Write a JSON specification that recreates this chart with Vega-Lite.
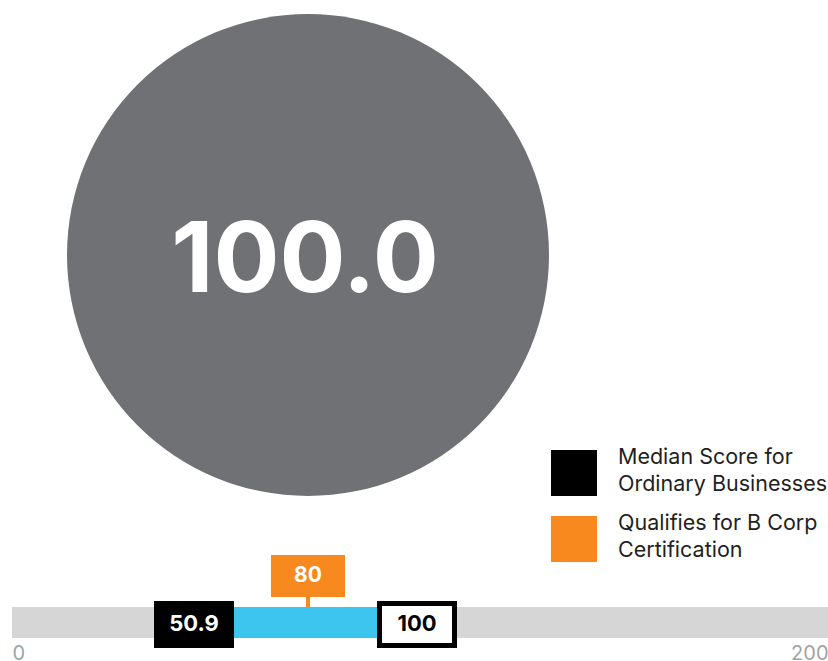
{
  "$schema": "https://vega.github.io/schema/vega-lite/v6.json",
  "padding": 0,
  "spacing": 0,
  "background": "white",
  "config": {"view": {"stroke": null}, "font": "Inter"},
  "datasets": {
    "overall": [{"score": 100}],
    "markers": [
      {"label": "Median Score for Ordinary Businesses", "value": 50.9, "kind": "median"},
      {"label": "Qualifies for B Corp Certification", "value": 80, "kind": "bcorp"},
      {"label": "Overall B Impact Score", "value": 100, "kind": "score"}
    ],
    "track": [{"min": 0, "max": 200}],
    "band": [{"from": 50.9, "to": 100}]
  },
  "vconcat": [
    {
      "width": 616,
      "height": 510,
      "data": {"name": "overall"},
      "layer": [
        {
          "mark": {"type": "point", "shape": "circle", "filled": true, "size": 232324, "color": "#707175", "opacity": 1, "strokeWidth": 0},
          "encoding": {}
        },
        {
          "mark": {"type": "text", "fontSize": 98, "fontWeight": "bold", "color": "white", "baseline": "alphabetic", "align": "center", "dy": 37, "dx": -3},
          "encoding": {"text": {"field": "score", "type": "quantitative", "format": ".1f"}}
        }
      ]
    },
    {
      "width": 828,
      "height": 133,
      "layer": [
        {
          "data": {"name": "track"},
          "mark": {"type": "rect", "y": 97, "y2": 128, "color": "#d6d6d6"},
          "encoding": {
            "x": {
              "field": "min", "type": "quantitative",
              "scale": {"domain": [0, 50.9, 80, 100, 200], "range": [12, 194, 308, 417, 828], "nice": false, "zero": false},
              "axis": {"values": [0, 200], "domain": false, "ticks": false, "grid": false, "title": null, "labelFontSize": 20, "labelColor": "#a3a3a3", "labelPadding": 16, "labelFlush": true, "labelBaseline": "alphabetic"}
            },
            "x2": {"field": "max"}
          }
        },
        {
          "data": {"name": "band"},
          "mark": {"type": "rect", "y": 97, "y2": 128, "color": "#3dc5ef"},
          "encoding": {
            "x": {"field": "from", "type": "quantitative"},
            "x2": {"field": "to"}
          }
        },
        {
          "data": {"name": "markers"},
          "transform": [{"filter": "datum.kind == 'bcorp'"}],
          "mark": {"type": "rule", "y": 87, "y2": 97, "strokeWidth": 4, "color": "#f7891f"},
          "encoding": {"x": {"field": "value", "type": "quantitative"}}
        },
        {
          "data": {"name": "markers"},
          "transform": [{"filter": "datum.kind == 'bcorp'"}],
          "mark": {"type": "rect", "y": 45, "y2": 87, "xOffset": -37, "x2Offset": 37},
          "encoding": {
            "x": {"field": "value", "type": "quantitative"},
            "x2": {"field": "value"},
            "color": {
              "field": "label", "type": "nominal",
              "scale": {"domain": ["Median Score for Ordinary Businesses", "Qualifies for B Corp Certification"], "range": ["#000000", "#f7891f"]},
              "legend": {
                "orient": "none", "legendX": 551, "legendY": 450, "title": null,
                "symbolType": "square", "symbolSize": 2116, "symbolStrokeWidth": 0, "symbolOpacity": 1,
                "labelFontSize": 21.5, "labelColor": "#231f20", "labelOffset": 21, "labelLimit": 400, "rowPadding": 17,
                "labelExpr": "datum.label == 'Median Score for Ordinary Businesses' ? ['Median Score for', 'Ordinary Businesses'] : ['Qualifies for B Corp', 'Certification']",
                "encode": {"labels": {"update": {"lineHeight": {"value": 27}, "dy": {"value": -15}}}}
              }
            }
          }
        },
        {
          "data": {"name": "markers"},
          "transform": [{"filter": "datum.kind == 'median'"}],
          "mark": {"type": "rect", "y": 91, "y2": 138, "xOffset": -40, "x2Offset": 40},
          "encoding": {
            "x": {"field": "value", "type": "quantitative"},
            "x2": {"field": "value"},
            "color": {"field": "label", "type": "nominal"}
          }
        },
        {
          "data": {"name": "markers"},
          "transform": [{"filter": "datum.kind == 'score'"}],
          "mark": {"type": "rect", "y": 93.5, "y2": 135.5, "xOffset": -37.5, "x2Offset": 37.5, "fill": "white", "stroke": "black", "strokeWidth": 5},
          "encoding": {
            "x": {"field": "value", "type": "quantitative"},
            "x2": {"field": "value"}
          }
        },
        {
          "data": {"name": "markers"},
          "transform": [{"filter": "datum.kind == 'median'"}],
          "mark": {"type": "text", "y": 114, "baseline": "middle", "align": "center", "fontSize": 22, "fontWeight": "bold", "color": "white"},
          "encoding": {
            "x": {"field": "value", "type": "quantitative"},
            "text": {"field": "value", "type": "quantitative", "format": ".1f"}
          }
        },
        {
          "data": {"name": "markers"},
          "transform": [{"filter": "datum.kind == 'bcorp'"}],
          "mark": {"type": "text", "y": 66, "baseline": "middle", "align": "center", "fontSize": 21, "fontWeight": "bold", "color": "white"},
          "encoding": {
            "x": {"field": "value", "type": "quantitative"},
            "text": {"field": "value", "type": "quantitative", "format": "d"}
          }
        },
        {
          "data": {"name": "markers"},
          "transform": [{"filter": "datum.kind == 'score'"}],
          "mark": {"type": "text", "y": 114, "baseline": "middle", "align": "center", "fontSize": 22, "fontWeight": "bold", "color": "black"},
          "encoding": {
            "x": {"field": "value", "type": "quantitative"},
            "text": {"field": "value", "type": "quantitative", "format": "d"}
          }
        }
      ]
    }
  ]
}
